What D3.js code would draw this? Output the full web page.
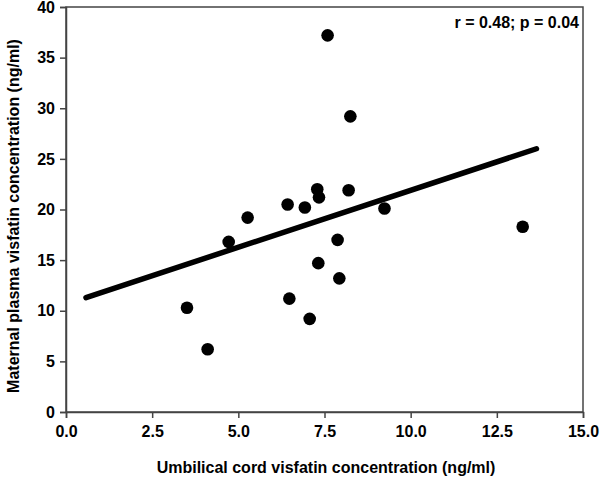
<!DOCTYPE html>
<html lang="en">

<head>
  <title>Visfatin scatter</title>
  <script src="https://cdn.jsdelivr.net/npm/d3@7"></script>
  <style>
    body { margin: 0; background: #fff; }
    text { font-family: "Liberation Sans", Arial, sans-serif; font-weight: bold; fill: #000; }
  </style>
</head>

<body>
  <script>
    // umbilical cord visfatin (x) vs maternal plasma visfatin (y), ng/ml
    var cordValues = [7.59, 8.25, 7.29, 7.34, 8.20, 6.43, 6.93, 9.24, 5.27,
                      4.72, 7.88, 7.32, 7.93, 3.51, 6.48, 7.07, 4.11, 13.25];
    var maternalValues = [37.2, 29.2, 22.0, 21.2, 21.9, 20.5, 20.2, 20.1, 19.2,
                          16.8, 17.0, 14.7, 13.2, 10.3, 11.2, 9.2, 6.2, 18.3];
    // regression line end points
    var fitX = [0.58, 13.65];
    var fitY = [11.3, 26.0];
    var xTicks = [0, 2.5, 5, 7.5, 10, 12.5, 15];
    var yTicks = [0, 5, 10, 15, 20, 25, 30, 35, 40];

    var w = 600;
    var h = 479;
    var margin = { top: 7, left: 66, right: 17, bottom: 67 };
    var width = w - margin.left - margin.right;
    var height = h - margin.top - margin.bottom;

    var svg = d3.select("body").append("svg")
                .attr("width", w)
                .attr("height", h);
    var chart = svg.append("g")
                   .attr("transform", "translate(" + margin.left + "," + margin.top + ")");

    var x = d3.scaleLinear().domain([0, 15]).range([0, width]);
    var y = d3.scaleLinear().domain([0, 40]).range([height, 0]);

    var xAxis = d3.axisBottom(x)
                  .tickValues(xTicks)
                  .tickFormat(d3.format(".1f"))
                  .tickSize(6)
                  .tickPadding(8);
    var yAxis = d3.axisLeft(y)
                  .tickValues(yTicks)
                  .tickSize(6)
                  .tickPadding(5);

    // frame
    chart.append("rect")
         .attr("width", width)
         .attr("height", height)
         .attr("fill", "none")
         .attr("stroke", "#444")
         .attr("stroke-width", 1.5);

    var gx = chart.append("g")
                  .attr("transform", "translate(0," + height + ")")
                  .call(xAxis);
    var gy = chart.append("g").call(yAxis);

    [gx, gy].forEach(function(g) {
      g.select(".domain").attr("stroke", "#444").attr("stroke-width", 1.5);
      g.selectAll(".tick line").attr("stroke", "#444").attr("stroke-width", 1.5);
      g.selectAll(".tick text")
       .attr("fill", "#000")
       .style("font-size", "16px")
       .style("font-family", "'Liberation Sans', Arial, sans-serif")
       .style("font-weight", "bold");
    });

    // regression line
    var line = d3.line()
                 .x(function(d) { return x(d[0]); })
                 .y(function(d) { return y(d[1]); });
    chart.append("path")
         .datum(d3.zip(fitX, fitY))
         .attr("d", line)
         .attr("stroke", "#000")
         .attr("stroke-width", 5.5)
         .attr("stroke-linecap", "round")
         .attr("fill", "none");

    // points
    chart.selectAll(".point")
         .data(d3.zip(cordValues, maternalValues))
         .enter()
           .append("circle")
           .classed("point", true)
           .attr("cx", function(d) { return x(d[0]); })
           .attr("cy", function(d) { return y(d[1]); })
           .attr("r", 6.3)
           .attr("fill", "#000");

    chart.append("text")
         .attr("x", width - 4)
         .attr("y", 21)
         .attr("text-anchor", "end")
         .style("font-size", "16px")
         .text("r = 0.48; p = 0.04");

    svg.append("text")
       .attr("x", 326)
       .attr("y", 473)
       .attr("text-anchor", "middle")
       .style("font-size", "16px")
       .text("Umbilical cord visfatin concentration (ng/ml)");

    svg.append("text")
       .attr("transform", "translate(19,216) rotate(-90)")
       .attr("text-anchor", "middle")
       .style("font-size", "16px")
       .text("Maternal plasma visfatin concentration (ng/ml)");
  </script>
</body>

</html>
